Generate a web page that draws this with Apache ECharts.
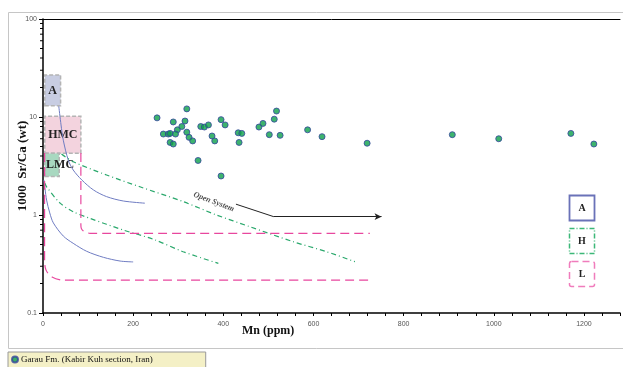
<!DOCTYPE html>
<html><head><meta charset="utf-8">
<script src="https://cdn.jsdelivr.net/npm/echarts@6/dist/echarts.min.js"></script>
<style>html,body{margin:0;padding:0;background:#fff}#c{width:623px;height:367px}</style>
</head><body><div id="c"></div>
<script>
// Data: Garau Fm. samples (Mn ppm, 1000 Sr/Ca)
const mnValues   = [253,319,289,315,308,298,267,278,282,294,319,324,332,282,289,350,358,367,395,404,375,381,344,395,433,441,435,479,488,518,513,502,526,587,619,719,908,1011,1171,1222];
const srcaValues = [9.8,12.1,8.9,9.1,8.0,7.4,6.7,6.7,6.8,6.7,7.0,6.2,5.7,5.5,5.3,8.0,7.9,8.3,9.4,8.3,6.4,5.7,3.6,2.5,6.9,6.8,5.5,7.9,8.6,11.5,9.5,6.6,6.5,7.4,6.3,5.4,6.6,6.0,6.8,5.3];

// Model curves
const aragUpperX = [35,40,45,56,67,86,112,141,178,226];
const aragUpperY = [12.9,8.3,5.8,3.64,2.88,2.28,1.80,1.54,1.39,1.32];
const aragLowerX = [2,8,15,23,45,67,97,134,171,200];
const aragLowerY = [2.28,1.42,1.05,0.83,0.61,0.514,0.426,0.37,0.339,0.332];
const hmcUpperX = [41,67,141,215,311,385,459,555,629,692];
const hmcUpperY = [4.19,3.5,2.56,1.94,1.37,1.0,0.76,0.534,0.422,0.334];
const hmcLowerX = [4,8,38,67,104,178,245,311,389];
const hmcLowerY = [2.12,1.94,1.32,1.08,0.925,0.703,0.565,0.422,0.321];
const lmcUpperX = [84,84,85,89,98,104,725];
const lmcUpperY = [4.29,0.80,0.73,0.69,0.66,0.65,0.65];
const lmcLowerX = [3.5,3.5,5,9,20,41,727];
const lmcLowerY = [4.29,0.34,0.29,0.262,0.233,0.217,0.217];
const openSysX = [428,512,751];
const openSysY = [1.29,0.961,0.961];

// Boxes [xmin,xmax,ymin,ymax]
const boxA   = [4,39,13.0,26.8];
const boxHMC = [4,84,4.26,10.2];
const boxLMC = [4,36,2.47,4.26];

const xTickLabels = [0,200,400,600,800,1000,1200];
const yTickLabels = [0.1,1,10,100];

const zip = (xs, ys) => xs.map((x,i) => [x, ys[i]]);
const serif = '"Liberation Serif","DejaVu Serif",serif';
const blue = '#6f7cc2', green = '#2aa86c', pink = '#e8479e';

const chart = echarts.init(document.getElementById('c'), null, {renderer:'canvas'});

function curve(name, xs, ys, color, type, w) {
  return {name, type:'line', data: zip(xs,ys), showSymbol:false, symbol:'none', smooth:0.3, silent:true,
    lineStyle:{color, width:w||1, type}, z:3};
}
function area(b, label, pos, fill) {
  return [{coord:[b[0],b[2]], itemStyle:{color:fill, borderColor:'#b4b4b4', borderWidth:1.5, borderType:[4,2]},
      label:{show:true, position:pos, distance:2, formatter:label, fontFamily:serif, fontWeight:'bold', fontSize:12, color:'#222'}},
    {coord:[b[1],b[3]]}];
}

const option = {
  animation:false,
  grid:{left:43, top:19, right:3, bottom:54, containLabel:false, outerBoundsMode:'none'},
  xAxis:[{
    type:'value', min:0, max:1280, interval:40,
    axisLine:{lineStyle:{color:'#000', width:1.5}},
    axisTick:{show:true, length:3, lineStyle:{color:'#000'}},
    axisLabel:{fontSize:7, color:'#555', fontFamily:'Liberation Sans, Arial', margin:8,
      formatter: v => xTickLabels.includes(v) ? String(v) : ''},
    splitLine:{show:false}
  },{
    type:'value', position:'top', min:0, max:1280, axisLine:{show:true, lineStyle:{color:'#000', width:1}},
    axisTick:{show:false}, axisLabel:{show:false}, splitLine:{show:false}
  }],
  yAxis:{
    type:'log', logBase:10, min:0.1, max:100,
    name:'1000  Sr/Ca (wt)', nameLocation:'middle', nameGap:14, nameMoveOverlap:false,
    nameTextStyle:{fontFamily:serif, fontWeight:'bold', fontSize:13, color:'#111'},
    axisLine:{show:true, lineStyle:{color:'#000', width:1.5}},
    axisTick:{show:true, length:4, lineStyle:{color:'#000'}},
    axisLabel:{fontSize:7, color:'#555', fontFamily:'Liberation Sans, Arial', margin:6,
      formatter: v => { const r = yTickLabels.find(t => Math.abs(t - v) < t*1e-6); return r === undefined ? '' : String(r); }},
    splitLine:{show:false}
  },
  legend:{
    data:['Garau Fm. (Kabir Kuh section, Iran)'], left:8, top:352, orient:'horizontal',
    backgroundColor:'#f4f0c6', borderColor:'#9a9a9a', borderWidth:1, padding:[3,53,4,3],
    itemWidth:6, itemHeight:6, itemGap:3, icon:'circle',
    textStyle:{fontFamily:serif, fontSize:9, color:'#111', padding:[0,0,0,-2]}
  },
  series:[
    {name:'boxes', type:'line', data:[], silent:true,
      markArea:{silent:true, z:1, data:[ area(boxA,'A','inside','#c8cde2'), area(boxHMC,'HMC','inside','#f3d3de'), area(boxLMC,'LMC','insideLeft','#a8d8c0') ]}},
    curve('aragU', aragUpperX, aragUpperY, blue, 'solid'),
    curve('aragL', aragLowerX, aragLowerY, blue, 'solid'),
    curve('hmcU', hmcUpperX, hmcUpperY, green, [5,3,1,3], 1.2),
    curve('hmcL', hmcLowerX, hmcLowerY, green, [5,3,1,3], 1.2),
    {name:'lmcU', type:'line', data:zip(lmcUpperX,lmcUpperY), showSymbol:false, symbol:'none', smooth:0.2, silent:true, lineStyle:{color:pink, width:1.2, type:[9,5]}, z:3},
    {name:'lmcL', type:'line', data:zip(lmcLowerX,lmcLowerY), showSymbol:false, symbol:'none', smooth:0.2, silent:true, lineStyle:{color:pink, width:1.2, type:[9,5]}, z:3},
    {name:'open', type:'line', data:zip(openSysX.slice(0,2),openSysY.slice(0,2)), showSymbol:false, symbol:'none', silent:true,
      lineStyle:{color:'#222', width:1}, z:4,
      markLine:{silent:true, symbol:['none','arrow'], symbolSize:[5,7], label:{show:false},
        lineStyle:{color:'#222', width:1, type:'solid'},
        data:[[{coord:[openSysX[1],openSysY[1]]},{coord:[openSysX[2],openSysY[2]]}]]}},
    {name:'openText', type:'scatter', data:[[379,1.36]], symbolSize:0, silent:true,
      label:{show:true, position:'inside', formatter:'Open System', rotate:-21, fontFamily:serif, fontStyle:'italic', fontWeight:'bold', fontSize:8, color:'#222'}},
    {name:'Garau Fm. (Kabir Kuh section, Iran)', type:'scatter', data:zip(mnValues, srcaValues), symbol:'circle', symbolSize:6,
      itemStyle:{color:'#0ca04a', borderColor:'#34439c', borderWidth:1}, z:5},
    {name:'minorTicks', type:'custom', silent:true, z:6,
      data:(function(){ const a=[]; [0.1,1,10].forEach(d=>{ for(let k=2;k<=9;k++) a.push(d*k); }); return a; })(),
      renderItem:(params, api) => {
        const p = api.coord([0, api.value(0)]);
        return {type:'line', shape:{x1:p[0]-3, y1:p[1], x2:p[0], y2:p[1]}, style:{stroke:'#000', lineWidth:1}};
      },
      encode:{y:0}, coordinateSystem:'cartesian2d'}
  ],
  graphic:[
    {type:'rect', shape:{x:8.5, y:12.5, width:640, height:336}, style:{fill:'none', stroke:'#c6c6c6', lineWidth:1}, silent:true, z:-10},
    {type:'text', left:242, top:325, style:{text:'Mn (ppm)', font:'bold 12px '+serif, fill:'#111'}},
    {type:'rect', shape:{x:569.5, y:195.5, width:25, height:25}, style:{fill:'#fff', stroke:'#6a72b8', lineWidth:1.8}},
    {type:'text', x:582, y:208, style:{text:'A', font:'bold 10px '+serif, fill:'#222', align:'center', verticalAlign:'middle'}},
    {type:'rect', shape:{x:569.5, y:228.5, width:25, height:25}, style:{fill:'#fff', stroke:'#3cb878', lineWidth:1.5, lineDash:[5,2,1,2]}},
    {type:'text', x:582, y:241, style:{text:'H', font:'bold 10px '+serif, fill:'#222', align:'center', verticalAlign:'middle'}},
    {type:'rect', shape:{x:569.5, y:261.5, width:25, height:25, r:2}, style:{fill:'#fff', stroke:'#f07cbc', lineWidth:1.5, lineDash:[7,4]}},
    {type:'text', x:582, y:274, style:{text:'L', font:'bold 10px '+serif, fill:'#222', align:'center', verticalAlign:'middle'}}
  ]
};
chart.setOption(option);
</script></body></html>
